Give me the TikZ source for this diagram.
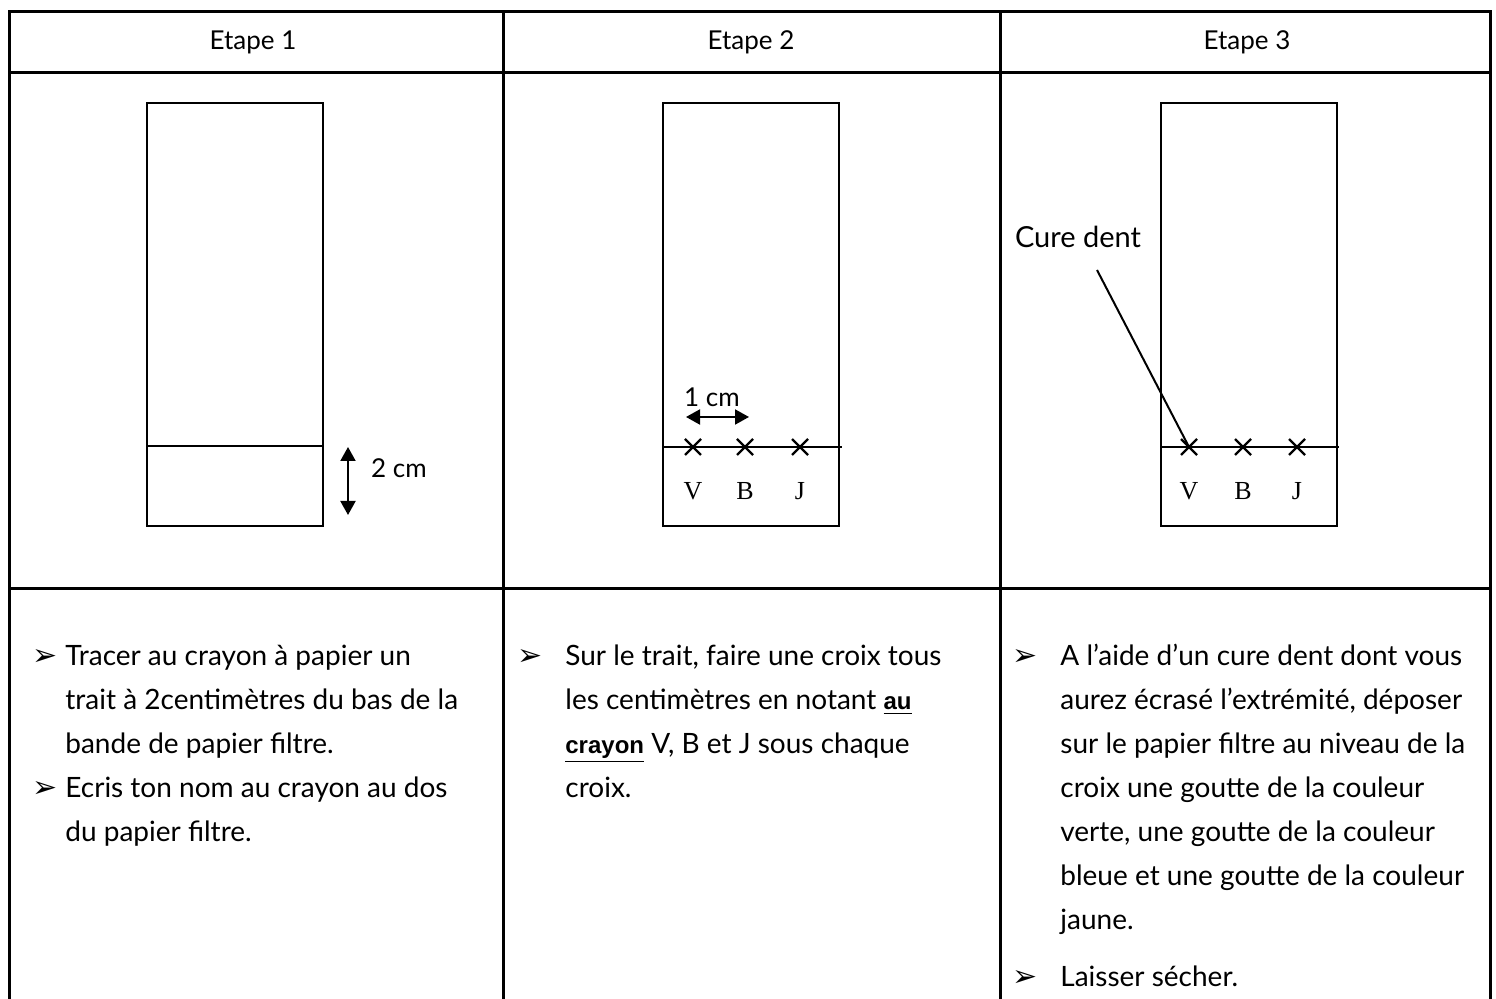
\documentclass[tikz,border=0pt]{standalone}
\usepackage{fontspec}
\setmainfont{Lato}
\newfontfamily\serifrm{Liberation Serif}
\newfontfamily\boldsans{Liberation Sans}
\newfontfamily\dingfont{DejaVu Sans}
\usetikzlibrary{arrows.meta}

\begin{document}
\begin{tikzpicture}[x=0.5pt,y=-0.5pt,
  grid/.style={line width=1.5pt},
  strip/.style={line width=1pt},
  dimarrow/.style={line width=1pt,{Triangle[length=7pt,width=7.5pt]}-{Triangle[length=7pt,width=7.5pt]}},
  txt/.style={anchor=base west,inner sep=0pt,font=\fontsize{14}{16}\selectfont},
  head/.style={inner sep=0pt,font=\fontsize{13}{15}\selectfont},
  bul/.style={anchor=base,inner sep=0pt,font=\dingfont\fontsize{15}{17}\selectfont},
  lab/.style={inner sep=0pt,font=\serifrm\fontsize{13}{15}\selectfont},
  xmark/.pic={\draw[line width=1.1pt] (-8,-8) -- (8,8) (-8,8) -- (8,-8);}]
\useasboundingbox (0,0) rectangle (1496,999);

% table grid
\draw[grid] (9,999) -- (9,12) -- (1490,12) -- (1490,999);
\draw[grid] (9,73) -- (1490,73);
\draw[grid] (9,589) -- (1490,589);
\draw[grid] (503,12) -- (503,999);
\draw[grid] (1000,12) -- (1000,999);

% headers
\node[head] (h1) at (253,42) {Etape 1};
\node[head] (h2) at (751,42) {Etape 2};
\node[head] (h3) at (1247,42) {Etape 3};

% step 1: strip with the 2 cm line
\draw[strip] (147,103) rectangle (323,526);
\draw[strip] (147,446) -- (323,446);
\coordinate (d1a) at (348,447);
\coordinate (d1b) at (348,515);
\draw[dimarrow] (d1a) -- (d1b);
\node[head] (cm2) at (399,468) {2 cm};

% step 2: strip with the crosses
\draw[strip] (663,103) rectangle (839,526);
\draw[strip] (663,447) -- (842,447);
\foreach \px/\lt [count=\i] in {693/V,745/B,800/J} {
  \pic at (\px,447) {xmark};
  \node[lab] (s2l\i) at (\px,491) {\lt};
}
\coordinate (d2a) at (686,417);
\coordinate (d2b) at (749,417);
\draw[dimarrow] (d2a) -- (d2b);
\node[head] (cm1) at (712,397) {1 cm};

% step 3: strip, crosses and toothpick
\draw[strip] (1161,103) rectangle (1337,526);
\draw[strip] (1161,447) -- (1339,447);
\foreach \px/\lt [count=\i] in {1189/V,1243/B,1297/J} {
  \pic at (\px,447) {xmark};
  \coordinate (c3\i) at (\px,447);
  \node[lab] (s3l\i) at (\px,491) {\lt};
}
\node[head,font=\fontsize{14.5}{16}\selectfont] (cure) at (1078,237) {Cure dent};
\coordinate (pick) at (1097,270);
\draw[line width=1pt] (pick) -- (c31);

% instructions, column 1
\node[bul] (b11) at (45,666) {➢};
\node[txt] (t11) at (65,666) {Tracer au crayon à papier un};
\node[txt] (t12) at (65,710) {trait à 2centimètres du bas de la};
\node[txt] (t13) at (65,754) {bande de papier filtre.};
\node[bul] (b12) at (45,798) {➢};
\node[txt] (t14) at (65,798) {Ecris ton nom au crayon au dos};
\node[txt] (t15) at (65,842) {du papier filtre.};

% instructions, column 2
\node[bul] (b21) at (530,666) {➢};
\node[txt] (t21) at (565,666) {Sur le trait, faire une croix tous};
\node[txt] (t22) at (565,710) {les centimètres en notant \underline{\boldsans\bfseries\fontsize{12}{14}\selectfont au}};
\node[txt] (t23) at (565,754) {\underline{\boldsans\bfseries\fontsize{12}{14}\selectfont crayon} V, B et J sous chaque};
\node[txt] (t24) at (565,798) {croix.};

% instructions, column 3
\node[bul] (b31) at (1025,666) {➢};
\node[txt] (t31) at (1060,666) {A l’aide d’un cure dent dont vous};
\node[txt] (t32) at (1060,710) {aurez écrasé l’extrémité, déposer};
\node[txt] (t33) at (1060,754) {sur le papier filtre au niveau de la};
\node[txt] (t34) at (1060,798) {croix une goutte de la couleur};
\node[txt] (t35) at (1060,842) {verte, une goutte de la couleur};
\node[txt] (t36) at (1060,886) {bleue et une goutte de la couleur};
\node[txt] (t37) at (1060,930) {jaune.};
\node[bul] (b32) at (1025,987) {➢};
\node[txt] (t38) at (1060,987) {Laisser sécher.};
\end{tikzpicture}
\end{document}
